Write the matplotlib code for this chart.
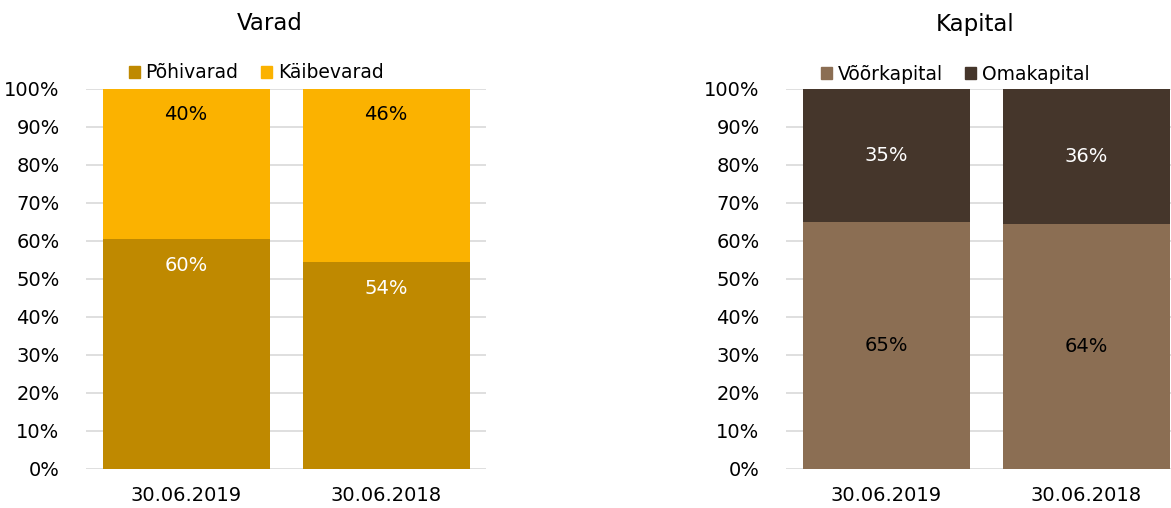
import matplotlib
matplotlib.use("Agg")
import matplotlib.pyplot as plt
from matplotlib.patches import Patch

categories = ["30.06.2019", "30.06.2018"]
pohivarad = [60.4, 54.4]
kaibevarad = [39.6, 45.6]
voorkapital = [64.9, 64.4]
omakapital = [35.1, 35.6]
yticks = list(range(0, 101, 10))

c_pohi = "#BF8900"
c_kaibe = "#FBB200"
c_voor = "#8B6E53"
c_oma = "#45362B"

plt.rcParams['font.family'] = ['DejaVu Sans']
W, H = 1171, 508
fig = plt.figure(figsize=(W / 100, H / 100), dpi=100)

def make_ax(x0, x1):
    ax = fig.add_axes([x0 / W, (H - 469) / H, (x1 - x0) / W, (469 - 89) / H])
    ax.set_ylim(0, 100)
    ax.set_xlim(-0.5, 1.5)
    ax.set_yticks(yticks)
    ax.set_yticklabels([f"{v}%" for v in yticks], fontsize=14)
    ax.set_xticks(range(len(categories)))
    ax.set_xticklabels(categories, fontsize=14)
    ax.tick_params(length=0, pad=19, axis='y')
    ax.tick_params(length=0, pad=12, axis='x')
    for s in ax.spines.values():
        s.set_visible(False)
    ax.grid(axis='y', color='#D9D9D9', linewidth=1.2)
    ax.set_axisbelow(True)
    return ax

x = list(range(len(categories)))
bw = 0.835
leg_kw = dict(loc='center', ncol=2, frameon=False, fontsize=13.5, handlelength=0.6,
              handleheight=0.6, handletextpad=0.3, columnspacing=1.2, borderpad=0.2)

# Left: Varad
ax1 = make_ax(86, 486)
ax1.bar(x, pohivarad, width=bw, color=c_pohi, zorder=2)
ax1.bar(x, kaibevarad, width=bw, bottom=pohivarad, color=c_kaibe, zorder=2)
for i in x:
    ax1.annotate(f"{round(pohivarad[i])}%", (i, pohivarad[i]), xytext=(0, -26),
                 textcoords='offset pixels', ha='center', va='center', color='white', fontsize=14)
    ax1.annotate(f"{round(kaibevarad[i])}%", (i, 100), xytext=(0, -25),
                 textcoords='offset pixels', ha='center', va='center', color='black', fontsize=14)
fig.legend([Patch(color=c_pohi), Patch(color=c_kaibe)], ["Põhivarad", "Käibevarad"],
           bbox_to_anchor=(256 / W, 1 - 73 / H), **leg_kw)
fig.text(270 / W, 1 - 24 / H, "Varad", ha='center', va='center', fontsize=16.5)

# Right: Kapital
ax2 = make_ax(786, 1186)
ax2.bar(x, voorkapital, width=bw, color=c_voor, zorder=2)
ax2.bar(x, omakapital, width=bw, bottom=voorkapital, color=c_oma, zorder=2)
for i in x:
    ax2.text(i, voorkapital[i] / 2, f"{round(voorkapital[i])}%", ha='center', va='center',
             color='black', fontsize=14)
    ax2.text(i, voorkapital[i] + omakapital[i] / 2, f"{round(omakapital[i])}%", ha='center',
             va='center', color='white', fontsize=14)
fig.legend([Patch(color=c_voor), Patch(color=c_oma)], ["Võõrkapital", "Omakapital"],
           bbox_to_anchor=(955 / W, 1 - 74 / H), **leg_kw)
fig.text(975 / W, 1 - 24 / H, "Kapital", ha='center', va='center', fontsize=16.5)

fig.savefig("out.png", dpi=100)
